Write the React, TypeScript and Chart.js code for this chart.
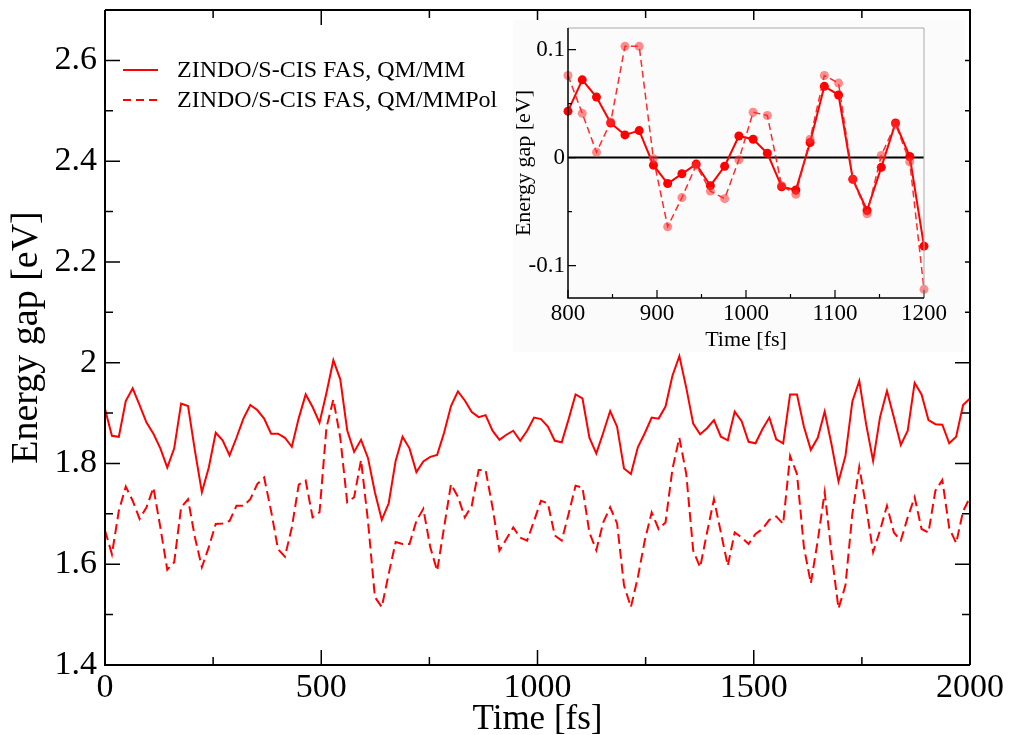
import React, { useEffect, useRef } from 'react';
import { Chart, registerables } from 'chart.js';

Chart.register(...registerables);

// ---------- data ----------
const TIME_STEP_FS = 16;

const qmmmGap = [
  1.908, 1.855, 1.853, 1.924, 1.949, 1.916, 1.881, 1.859, 1.830, 1.792,
  1.830, 1.919, 1.914, 1.825, 1.743, 1.792, 1.861, 1.846, 1.816, 1.851,
  1.889, 1.916, 1.906, 1.889, 1.859, 1.859, 1.851, 1.833, 1.890, 1.937,
  1.912, 1.881, 1.940, 2.005, 1.967, 1.866, 1.823, 1.847, 1.811, 1.743,
  1.688, 1.721, 1.805, 1.853, 1.830, 1.783, 1.804, 1.813, 1.817, 1.861,
  1.914, 1.943, 1.925, 1.902, 1.892, 1.896, 1.865, 1.847, 1.857, 1.865,
  1.845, 1.865, 1.891, 1.888, 1.873, 1.845, 1.842, 1.888, 1.937, 1.929,
  1.851, 1.820, 1.861, 1.904, 1.873, 1.790, 1.779, 1.832, 1.860, 1.891,
  1.889, 1.913, 1.974, 2.013, 1.950, 1.879, 1.858, 1.870, 1.886, 1.853,
  1.846, 1.903, 1.884, 1.843, 1.840, 1.868, 1.891, 1.848, 1.840, 1.937,
  1.937, 1.873, 1.827, 1.851, 1.903, 1.837, 1.764, 1.815, 1.923, 1.964,
  1.877, 1.805, 1.892, 1.944, 1.891, 1.837, 1.865, 1.960, 1.937, 1.886,
  1.878, 1.877, 1.840, 1.853, 1.916, 1.929,
];

const qmmmpolGap = [
  1.667, 1.620, 1.706, 1.754, 1.726, 1.690, 1.713, 1.752, 1.673, 1.589,
  1.604, 1.713, 1.729, 1.653, 1.594, 1.634, 1.680, 1.681, 1.686, 1.716,
  1.716, 1.729, 1.759, 1.772, 1.706, 1.630, 1.615, 1.673, 1.758, 1.766,
  1.693, 1.703, 1.871, 1.927, 1.851, 1.723, 1.733, 1.807, 1.686, 1.535,
  1.515, 1.581, 1.644, 1.640, 1.640, 1.686, 1.710, 1.634, 1.587, 1.673,
  1.759, 1.734, 1.693, 1.716, 1.787, 1.787, 1.713, 1.627, 1.650, 1.673,
  1.653, 1.647, 1.686, 1.726, 1.721, 1.657, 1.647, 1.700, 1.756, 1.752,
  1.663, 1.628, 1.683, 1.713, 1.681, 1.558, 1.515, 1.574, 1.647, 1.703,
  1.670, 1.683, 1.789, 1.851, 1.779, 1.627, 1.594, 1.663, 1.729, 1.663,
  1.597, 1.663, 1.653, 1.640, 1.660, 1.670, 1.688, 1.695, 1.680, 1.815,
  1.779, 1.634, 1.562, 1.647, 1.743, 1.620, 1.512, 1.558, 1.700, 1.793,
  1.713, 1.624, 1.667, 1.716, 1.663, 1.647, 1.693, 1.733, 1.670, 1.663,
  1.746, 1.767, 1.672, 1.642, 1.705, 1.733,
];

const xMajorTicks = [0, 500, 1000, 1500, 2000];
const xMinorTicks = [250, 750, 1250, 1750];
const yMajorTicks = [1.4, 1.6, 1.8, 2.0, 2.2, 2.4, 2.6];
const yMinorTicks = [1.5, 1.7, 1.9, 2.1, 2.3, 2.5];

const INSET_START_FS = 800;
const insetQmmm = [
  0.043, 0.072, 0.056, 0.032, 0.021, 0.025, -0.007, -0.024, -0.015, -0.006,
  -0.026, -0.008, 0.020, 0.017, 0.004, -0.027, -0.030, 0.014, 0.066, 0.058,
  -0.020, -0.049, -0.009, 0.032, 0.001, -0.082,
];
const insetQmmmpol = [
  0.076, 0.041, 0.005, 0.033, 0.103, 0.103, -0.001, -0.064, -0.037, -0.007,
  -0.031, -0.038, -0.002, 0.042, 0.039, -0.026, -0.034, 0.017, 0.076, 0.069,
  -0.020, -0.052, 0.002, 0.031, -0.004, -0.122,
];
const insetXMajor = [800, 900, 1000, 1100, 1200];
const insetXMinor = [850, 950, 1050, 1150];
const insetYMajor = [-0.1, 0, 0.1];
const insetYMinor = [-0.05, 0.05];

const legendLabels = ['ZINDO/S-CIS FAS, QM/MM', 'ZINDO/S-CIS FAS, QM/MMPol'];

// ---------- helpers ----------
const SERIF = '"Liberation Serif", "Times New Roman", serif';
const RED = '#ff0000';

const toPoints = (vals: number[], start: number) =>
  vals.map((v, i) => ({ x: start + i * TIME_STEP_FS, y: v }));

const fmt = (v: number) => String(Number(Number(v).toFixed(3)));

const zeroPad = (s: any) => {
  s.paddingTop = 0;
  s.paddingBottom = 0;
  s.paddingLeft = 0;
  s.paddingRight = 0;
};

type FrameCfg = {
  id: string;
  xMajor: number[];
  xMinor: number[];
  yMajor: number[];
  yMinor: number[];
  majorLen: number;
  minorLen: number;
  mirror: boolean;
  axisWidth: number;
  tickWidth: number;
  otherColor: string;
  otherWidth: number;
};

function makeFramePlugin(cfg: FrameCfg) {
  return {
    id: cfg.id,
    afterDatasetsDraw(chart: any) {
      const { ctx, chartArea: a, scales } = chart;
      const xs = scales.x;
      const ys = scales.y;
      ctx.save();
      ctx.strokeStyle = '#000';
      ctx.lineWidth = cfg.tickWidth;
      ctx.lineCap = 'butt';
      ctx.beginPath();
      const xTicks = (list: number[], len: number) => {
        list.forEach((v) => {
          const px = xs.getPixelForValue(v);
          ctx.moveTo(px, a.bottom);
          ctx.lineTo(px, a.bottom - len);
          if (cfg.mirror) {
            ctx.moveTo(px, a.top);
            ctx.lineTo(px, a.top + len);
          }
        });
      };
      const yTicks = (list: number[], len: number) => {
        list.forEach((v) => {
          const py = ys.getPixelForValue(v);
          ctx.moveTo(a.left, py);
          ctx.lineTo(a.left + len, py);
          if (cfg.mirror) {
            ctx.moveTo(a.right, py);
            ctx.lineTo(a.right - len, py);
          }
        });
      };
      xTicks(cfg.xMajor, cfg.majorLen);
      xTicks(cfg.xMinor, cfg.minorLen);
      yTicks(cfg.yMajor, cfg.majorLen);
      yTicks(cfg.yMinor, cfg.minorLen);
      ctx.stroke();

      // top and right edges
      ctx.strokeStyle = cfg.otherColor;
      ctx.lineWidth = cfg.otherWidth;
      ctx.beginPath();
      ctx.moveTo(a.left, a.top);
      ctx.lineTo(a.right, a.top);
      ctx.lineTo(a.right, a.bottom);
      ctx.stroke();

      // left and bottom axes
      ctx.strokeStyle = '#000';
      ctx.lineWidth = cfg.axisWidth;
      ctx.beginPath();
      ctx.moveTo(a.left, a.top);
      ctx.lineTo(a.left, a.bottom);
      ctx.lineTo(a.right, a.bottom);
      ctx.stroke();
      ctx.restore();
    },
  };
}

const legendPlugin = {
  id: 'manualLegend',
  afterDraw(chart: any) {
    const { ctx } = chart;
    ctx.save();
    ctx.font = `24px ${SERIF}`;
    ctx.fillStyle = '#000';
    ctx.textBaseline = 'middle';
    ctx.textAlign = 'left';
    const rows = [
      { label: legendLabels[0], y: 70, dash: [] as number[] },
      { label: legendLabels[1], y: 100, dash: [8, 5] },
    ];
    rows.forEach((r) => {
      ctx.strokeStyle = RED;
      ctx.lineWidth = 2;
      ctx.setLineDash(r.dash);
      ctx.beginPath();
      ctx.moveTo(123, r.y);
      ctx.lineTo(158, r.y);
      ctx.stroke();
      ctx.setLineDash([]);
      ctx.fillText(r.label, 177, r.y + 1);
    });
    ctx.restore();
  },
};

const zeroLinePlugin = {
  id: 'zeroLine',
  beforeDatasetsDraw(chart: any) {
    const { ctx, chartArea: a, scales } = chart;
    const py = scales.y.getPixelForValue(0);
    ctx.save();
    ctx.strokeStyle = '#000';
    ctx.lineWidth = 2;
    ctx.beginPath();
    ctx.moveTo(a.left, py);
    ctx.lineTo(a.right, py);
    ctx.stroke();
    ctx.restore();
  },
};

// ---------- component ----------
export default function App() {
  const mainRef = useRef<HTMLCanvasElement>(null);
  const insetRef = useRef<HTMLCanvasElement>(null);

  useEffect(() => {
    if (!mainRef.current || !insetRef.current) return;

    const main = new Chart(mainRef.current, {
      type: 'line',
      data: {
        datasets: [
          {
            label: legendLabels[0],
            data: toPoints(qmmmGap, 0),
            borderColor: RED,
            borderWidth: 2,
            pointRadius: 0,
            tension: 0,
            fill: false,
          },
          {
            label: legendLabels[1],
            data: toPoints(qmmmpolGap, 0),
            borderColor: RED,
            borderWidth: 2,
            borderDash: [10, 5],
            pointRadius: 0,
            tension: 0,
            fill: false,
          },
        ],
      },
      options: {
        responsive: false,
        animation: false,
        devicePixelRatio: 1,
        events: [],
        layout: { padding: { top: 10, right: 39, left: 0, bottom: 0 } },
        plugins: { legend: { display: false }, tooltip: { enabled: false } },
        scales: {
          x: {
            type: 'linear',
            min: 0,
            max: 2000,
            afterBuildTicks: (s: any) => {
              s.ticks = xMajorTicks.map((v) => ({ value: v }));
            },
            afterFit: (s: any) => {
              s.height = 70;
              zeroPad(s);
            },
            grid: { display: false, drawTicks: false },
            border: { display: false },
            ticks: {
              color: '#000',
              padding: 3,
              maxRotation: 0,
              autoSkip: false,
              font: { family: SERIF, size: 34 },
              callback: (v: any) => fmt(v),
            },
            title: {
              display: true,
              text: 'Time [fs]',
              color: '#000',
              padding: { top: 0, bottom: 0 },
              font: { family: SERIF, size: 35, lineHeight: 0.85 },
            },
          },
          y: {
            type: 'linear',
            min: 1.4,
            max: 2.7,
            afterBuildTicks: (s: any) => {
              s.ticks = yMajorTicks.map((v) => ({ value: v }));
            },
            afterFit: (s: any) => {
              s.width = 105;
              zeroPad(s);
            },
            grid: { display: false, drawTicks: false },
            border: { display: false },
            ticks: {
              color: '#000',
              padding: 8,
              autoSkip: false,
              font: { family: SERIF, size: 34 },
              callback: (v: any) => fmt(v),
            },
            title: {
              display: true,
              text: 'Energy gap [eV]',
              color: '#000',
              padding: { top: 8, bottom: 0 },
              font: { family: SERIF, size: 38, lineHeight: 1 },
            },
          },
        },
      },
      plugins: [
        makeFramePlugin({
          id: 'mainFrame',
          xMajor: xMajorTicks,
          xMinor: xMinorTicks,
          yMajor: yMajorTicks,
          yMinor: yMinorTicks,
          majorLen: 15,
          minorLen: 8,
          mirror: true,
          axisWidth: 2,
          tickWidth: 1.5,
          otherColor: '#000',
          otherWidth: 2,
        }),
        legendPlugin,
      ],
    } as any);

    const inset = new Chart(insetRef.current, {
      type: 'line',
      data: {
        datasets: [
          {
            label: legendLabels[1],
            data: toPoints(insetQmmmpol, INSET_START_FS),
            borderColor: 'rgba(255,20,20,0.9)',
            borderWidth: 1.5,
            borderDash: [7, 4],
            pointRadius: 4.5,
            pointBackgroundColor: 'rgba(255,50,50,0.55)',
            pointBorderWidth: 0,
            pointBorderColor: 'rgba(0,0,0,0)',
            tension: 0,
            fill: false,
            clip: false,
          },
          {
            label: legendLabels[0],
            data: toPoints(insetQmmm, INSET_START_FS),
            borderColor: RED,
            borderWidth: 2,
            pointRadius: 4.5,
            pointBackgroundColor: RED,
            pointBorderWidth: 0,
            pointBorderColor: RED,
            tension: 0,
            fill: false,
            clip: false,
          },
        ],
      },
      options: {
        responsive: false,
        animation: false,
        devicePixelRatio: 1,
        events: [],
        layout: { padding: { top: 8, right: 41, left: 0, bottom: 0 } },
        plugins: { legend: { display: false }, tooltip: { enabled: false } },
        scales: {
          x: {
            type: 'linear',
            min: 800,
            max: 1200,
            afterBuildTicks: (s: any) => {
              s.ticks = insetXMajor.map((v) => ({ value: v }));
            },
            afterFit: (s: any) => {
              s.height = 54;
              zeroPad(s);
            },
            grid: { display: false, drawTicks: false },
            border: { display: false },
            ticks: {
              color: '#000',
              padding: 2,
              maxRotation: 0,
              autoSkip: false,
              font: { family: SERIF, size: 23 },
              callback: (v: any) => fmt(v),
            },
            title: {
              display: true,
              text: 'Time [fs]',
              color: '#000',
              padding: { top: 0, bottom: 1 },
              font: { family: SERIF, size: 22, lineHeight: 1 },
            },
          },
          y: {
            type: 'linear',
            min: -0.13,
            max: 0.12,
            afterBuildTicks: (s: any) => {
              s.ticks = insetYMajor.map((v) => ({ value: v }));
            },
            afterFit: (s: any) => {
              s.width = 55;
              zeroPad(s);
            },
            grid: { display: false, drawTicks: false },
            border: { display: false },
            ticks: {
              color: '#000',
              padding: 3,
              autoSkip: false,
              font: { family: SERIF, size: 23 },
              callback: (v: any) => fmt(v),
            },
            title: {
              display: true,
              text: 'Energy gap [eV]',
              color: '#000',
              padding: { top: 0, bottom: 0 },
              font: { family: SERIF, size: 22, lineHeight: 1 },
            },
          },
        },
      },
      plugins: [
        zeroLinePlugin,
        makeFramePlugin({
          id: 'insetFrame',
          xMajor: insetXMajor,
          xMinor: insetXMinor,
          yMajor: insetYMajor,
          yMinor: insetYMinor,
          majorLen: 8,
          minorLen: 4,
          mirror: false,
          axisWidth: 1.5,
          tickWidth: 1.2,
          otherColor: '#aaaaaa',
          otherWidth: 1,
        }),
      ],
    } as any);

    return () => {
      main.destroy();
      inset.destroy();
    };
  }, []);

  return (
    <div
      style={{
        position: 'fixed',
        left: 0,
        top: 0,
        width: 1009,
        height: 735,
        background: '#fff',
      }}
    >
      <canvas
        ref={mainRef}
        width={1009}
        height={735}
        style={{ position: 'absolute', left: 0, top: 0, width: 1009, height: 735 }}
      />
      <canvas
        ref={insetRef}
        width={452}
        height={332}
        style={{
          position: 'absolute',
          left: 513,
          top: 20,
          width: 452,
          height: 332,
          background: '#fbfbfb',
        }}
      />
    </div>
  );
}
